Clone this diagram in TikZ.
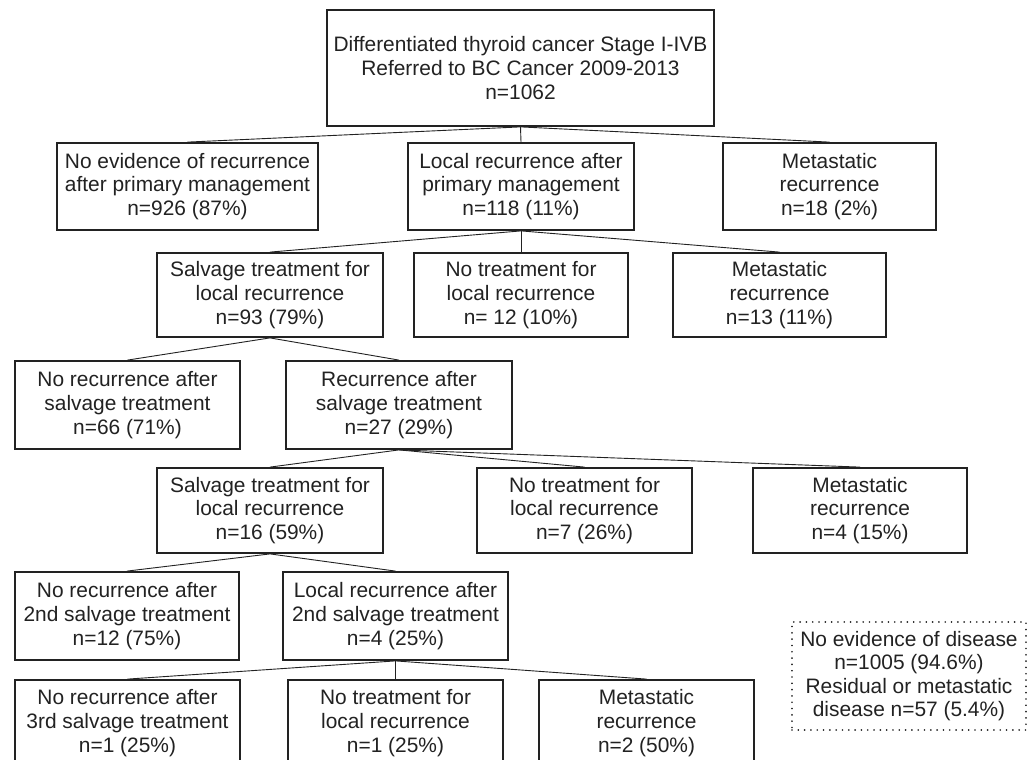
\documentclass[tikz,border=0pt]{standalone}
\usepackage{fontspec}
\setmainfont{Liberation Sans}
\definecolor{ink}{HTML}{222222}
\begin{document}
\begin{tikzpicture}[x=1pt,y=-1pt,
  box/.style={draw=ink,line width=1.8pt,align=center,inner sep=0pt,text=ink,
    font=\fontsize{20.9}{23.6}\selectfont},
  note/.style={draw=ink,line width=1.8pt,dash pattern=on 0.01pt off 6.3pt,line cap=round,
    align=center,inner sep=0pt,text=ink,font=\fontsize{20.9}{23.6}\selectfont},
  link/.style={draw=ink,line width=0.9pt}]
\useasboundingbox (0,0) rectangle (1036,760);
\fill[white] (0,0) rectangle (1036,760);
\clip (0,0) rectangle (1036,760);
% level 0
\node[box,minimum width=387pt,minimum height=116pt] (top) at (520.5,68)
  {Differentiated thyroid cancer Stage I-IVB\\Referred to BC Cancer 2009-2013\\n=1062};
% level 1
\node[box,minimum width=261pt,minimum height=87pt] (a) at (187.5,186.5)
  {No evidence of recurrence\\after primary management\\n=926 (87\%)};
\node[box,minimum width=226pt,minimum height=87pt] (b) at (521,186.5)
  {Local recurrence after\\primary management\\n=118 (11\%)};
\node[box,minimum width=213pt,minimum height=87pt] (c) at (829.5,186.5)
  {Metastatic\\recurrence\\n=18 (2\%)};
% level 2
\node[box,minimum width=226pt,minimum height=84pt] (d) at (270,295)
  {Salvage treatment for\\local recurrence\\n=93 (79\%)};
\node[box,minimum width=214pt,minimum height=84pt] (e) at (521,295)
  {No treatment for\\local recurrence\\n= 12 (10\%)};
\node[box,minimum width=213pt,minimum height=84pt] (f) at (779.5,295)
  {Metastatic\\recurrence\\n=13 (11\%)};
% level 3
\node[box,minimum width=225pt,minimum height=88pt] (g) at (127.5,405)
  {No recurrence after\\salvage treatment\\n=66 (71\%)};
\node[box,minimum width=226pt,minimum height=88pt] (h) at (399,405)
  {Recurrence after\\salvage treatment\\n=27 (29\%)};
% level 4
\node[box,minimum width=226pt,minimum height=85pt] (i) at (270,510.5)
  {Salvage treatment for\\local recurrence\\n=16 (59\%)};
\node[box,minimum width=215pt,minimum height=85pt] (j) at (584.5,510.5)
  {No treatment for\\local recurrence\\n=7 (26\%)};
\node[box,minimum width=214pt,minimum height=85pt] (k) at (860,510.5)
  {Metastatic\\recurrence\\n=4 (15\%)};
% level 5
\node[box,minimum width=224pt,minimum height=88pt] (l) at (127,616)
  {No recurrence after\\2nd salvage treatment\\n=12 (75\%)};
\node[box,minimum width=225pt,minimum height=88pt] (m) at (395.5,616)
  {Local recurrence after\\2nd salvage treatment\\n=4 (25\%)};
% level 6
\node[box,minimum width=225pt,minimum height=86pt] (n) at (127.5,723)
  {No recurrence after\\3rd salvage treatment\\n=1 (25\%)};
\node[box,minimum width=215pt,minimum height=86pt] (o) at (395.5,723)
  {No treatment for\\local recurrence\\n=1 (25\%)};
\node[box,minimum width=215pt,minimum height=86pt] (p) at (646.5,723)
  {Metastatic\\recurrence\\n=2 (50\%)};
% summary
\node[note,minimum width=234pt,minimum height=108pt] (q) at (909,676)
  {No evidence of disease\\n=1005 (94.6\%)\\Residual or metastatic\\disease n=57 (5.4\%)};
% connectors
\draw[link] (top.south) -- (a.north);
\draw[link] (top.south) -- (b.north);
\draw[link] (top.south) -- (c.north);
\draw[link] (b.south) -- (d.north);
\draw[link] (b.south) -- (e.north);
\draw[link] (b.south) -- (f.north);
\draw[link] (d.south) -- (g.north);
\draw[link] (d.south) -- (h.north);
\draw[link] (h.south) -- (i.north);
\draw[link] (h.south) -- (j.north);
\draw[link] (h.south) -- (k.north);
\draw[link] (i.south) -- (l.north);
\draw[link] (i.south) -- (m.north);
\draw[link] (m.south) -- (n.north);
\draw[link] (m.south) -- (o.north);
\draw[link] (m.south) -- (p.north);
\end{tikzpicture}
\end{document}
